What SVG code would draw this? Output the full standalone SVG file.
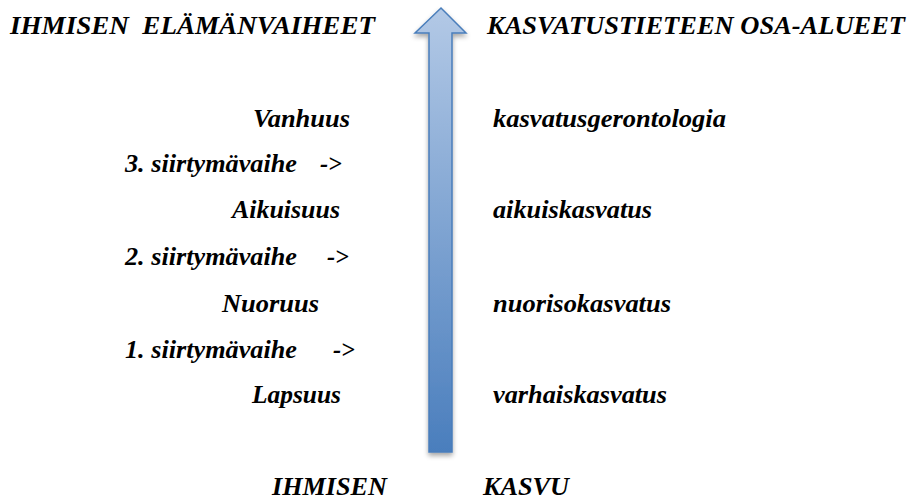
<svg xmlns="http://www.w3.org/2000/svg" width="912" height="500" viewBox="0 0 912 500">
<style>
text{font-family:"Liberation Serif","Times New Roman",serif;font-weight:bold;font-style:italic;font-size:26px;fill:#000}
.h{font-size:25px}
</style>
<defs>
<linearGradient id="g" x1="0" y1="0" x2="0" y2="1">
<stop offset="0" stop-color="#b3c9e6"/>
<stop offset="1" stop-color="#4a7ebd"/>
</linearGradient>
<filter id="sh" x="-50%" y="-10%" width="200%" height="120%">
<feGaussianBlur in="SourceAlpha" stdDeviation="2.5"/>
<feOffset dx="0" dy="3" result="b"/>
<feComponentTransfer><feFuncA type="linear" slope="0.35"/></feComponentTransfer>
<feMerge><feMergeNode/><feMergeNode in="SourceGraphic"/></feMerge>
</filter>
</defs>
<g id="connectors">
<path id="arrow" d="M441,8 L466,33 L452,33 L452,452 L429,452 L429,33 L415,33 Z" fill="url(#g)" stroke="#4a7ebb" stroke-width="1.5" filter="url(#sh)"/>
</g>
<g id="headers">
<text class="h" x="10" y="34" textLength="365" lengthAdjust="spacingAndGlyphs" xml:space="preserve">IHMISEN  ELÄMÄNVAIHEET</text>
<text class="h" x="487" y="34" textLength="418" lengthAdjust="spacingAndGlyphs">KASVATUSTIETEEN OSA-ALUEET</text>
</g>
<g id="vanhuus"><text x="253" y="127" textLength="97" lengthAdjust="spacingAndGlyphs">Vanhuus</text></g>
<g id="siirtyma3"><text x="125" y="172" textLength="172" lengthAdjust="spacingAndGlyphs">3. siirtymävaihe</text><text x="320" y="172" textLength="22" lengthAdjust="spacingAndGlyphs">-&gt;</text></g>
<g id="aikuisuus"><text x="232" y="218" textLength="108" lengthAdjust="spacingAndGlyphs">Aikuisuus</text></g>
<g id="siirtyma2"><text x="125" y="265" textLength="172" lengthAdjust="spacingAndGlyphs">2. siirtymävaihe</text><text x="327" y="265" textLength="22" lengthAdjust="spacingAndGlyphs">-&gt;</text></g>
<g id="nuoruus"><text x="222" y="312" textLength="97" lengthAdjust="spacingAndGlyphs">Nuoruus</text></g>
<g id="siirtyma1"><text x="125" y="358" textLength="172" lengthAdjust="spacingAndGlyphs">1. siirtymävaihe</text><text x="333" y="358" textLength="22" lengthAdjust="spacingAndGlyphs">-&gt;</text></g>
<g id="lapsuus"><text x="252" y="403" textLength="89" lengthAdjust="spacingAndGlyphs">Lapsuus</text></g>
<g id="gerontologia"><text x="493" y="127" textLength="233" lengthAdjust="spacingAndGlyphs">kasvatusgerontologia</text></g>
<g id="aikuiskasvatus"><text x="493" y="218" textLength="159" lengthAdjust="spacingAndGlyphs">aikuiskasvatus</text></g>
<g id="nuorisokasvatus"><text x="493" y="312" textLength="178" lengthAdjust="spacingAndGlyphs">nuorisokasvatus</text></g>
<g id="varhaiskasvatus"><text x="493" y="403" textLength="174" lengthAdjust="spacingAndGlyphs">varhaiskasvatus</text></g>
<g id="kasvu"><text class="h" x="272" y="495" textLength="115" lengthAdjust="spacingAndGlyphs">IHMISEN</text><text class="h" x="483" y="495" textLength="86" lengthAdjust="spacingAndGlyphs">KASVU</text></g>
</svg>
